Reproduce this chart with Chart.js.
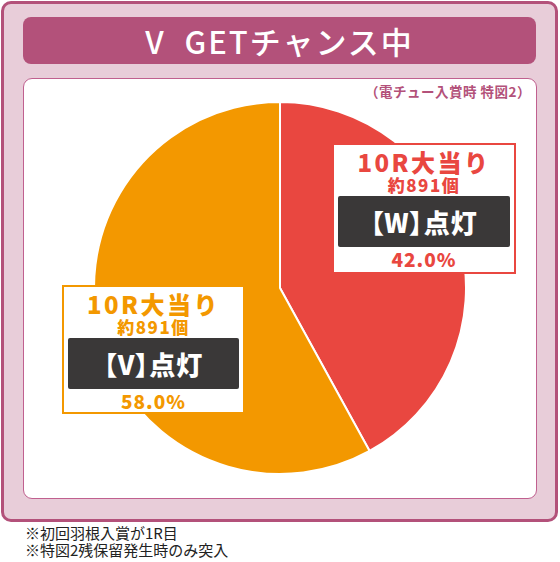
<!DOCTYPE html>
<html>
<head>
<meta charset="utf-8">
<script src="https://cdn.jsdelivr.net/npm/chart.js@4"></script>
<style>
  html,body{margin:0;padding:0;background:#fff;width:560px;height:562px;overflow:hidden;
    font-family:"Noto Sans CJK JP","Noto Sans",sans-serif;}
  #frame{position:absolute;left:1px;top:1px;width:551px;height:515px;background:#e8cdd9;
    border:3px solid #b3517a;border-radius:10px;}
  #banner{position:absolute;left:23px;top:17px;width:513px;height:47px;background:#b3517a;border-radius:8px;
    color:#fff;font-size:31px;font-weight:500;text-align:center;line-height:47px;letter-spacing:2px;word-spacing:10px;}
  #panel{position:absolute;left:23px;top:78px;width:512px;height:419px;background:#fff;
    border:1px solid #c0608f;border-radius:9px;}
  #sub{position:absolute;right:29px;top:81px;color:#b3517a;font-size:13.5px;font-weight:700;letter-spacing:0.5px;}
  #pie{position:absolute;left:93px;top:101px;width:374px;height:374px;}
  .lbl{position:absolute;background:#fff;border:2px solid;box-sizing:border-box;text-align:center;font-weight:900;}
  .lbl .a{font-size:24px;line-height:26px;margin-top:4px;letter-spacing:2.5px;}
  .lbl .b{font-size:17px;line-height:20px;letter-spacing:1.5px;}
  .lbl .c{background:#3a3838;color:#fff;font-size:26px;line-height:51px;height:51px;margin:1px 4px 0 4px;border-radius:2px;
    font-feature-settings:"palt";letter-spacing:1px;}
  .lbl .d{font-size:19px;line-height:24px;letter-spacing:1px;}
  #note{position:absolute;left:25px;top:524px;color:#222;font-size:15px;line-height:17px;}
</style>
</head>
<body>
<div id="frame"></div>
<div id="banner">V GETチャンス中</div>
<div id="panel"></div>
<div id="sub">（電チュー入賞時 特図2）</div>
<div id="pie"><canvas id="chart"></canvas></div>
<div id="note">※初回羽根入賞が1R目<br>※特図2残保留発生時のみ突入</div>
<script>
// --------- данные ---------
const lamps=['【W】点灯','【V】点灯'];
const values=[42.0,58.0];
const prizes=['10R大当り','10R大当り'];
const balls=['約891個','約891個'];
const colors=['#e94740','#f39800'];

// позиции подписей (left, top, width, height)
const boxes=[[332,143,184,131],[62,285,183,129]];

// --------- подписи ---------
lamps.forEach((l,i)=>{
  const d=document.createElement('div');
  d.className='lbl';
  const b=boxes[i];
  d.style.left=b[0]+'px'; d.style.top=b[1]+'px';
  d.style.width=b[2]+'px'; d.style.height=b[3]+'px';
  d.style.borderColor=colors[i]; d.style.color=colors[i];
  d.innerHTML='<div class="a">'+prizes[i]+'</div><div class="b">'+balls[i]+'</div>'+
    '<div class="c">'+l+'</div><div class="d">'+values[i].toFixed(1)+'%</div>';
  document.body.appendChild(d);
});

// --------- график ---------
new Chart(document.getElementById('chart'),{
  type:'pie',
  data:{
    labels:lamps,
    datasets:[{data:values,backgroundColor:colors,borderColor:'#fff',borderWidth:2}]
  },
  options:{
    responsive:true,maintainAspectRatio:false,animation:false,
    layout:{padding:0},
    plugins:{legend:{display:false},tooltip:{enabled:false}}
  }
});
</script>
</body>
</html>
